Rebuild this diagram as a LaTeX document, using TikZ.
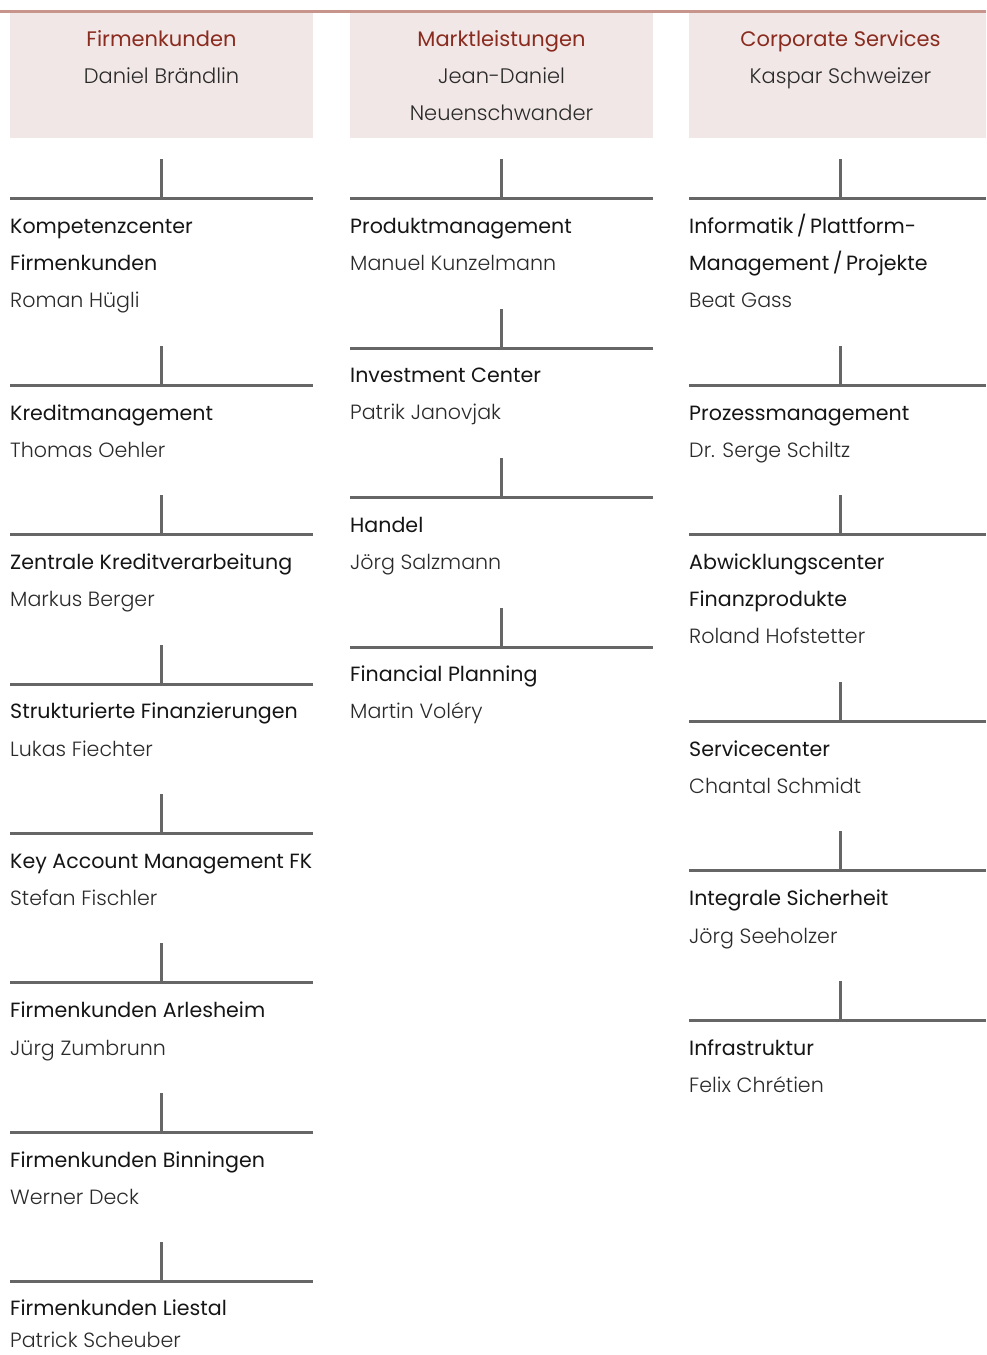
\documentclass[tikz,border=0pt]{standalone}
\usepackage{fontspec}
\newfontfamily\titlefont{Poppins}
\newfontfamily\namefont{Poppins Light}
\definecolor{hdrfill}{HTML}{F1E7E6}
\definecolor{hdrred}{HTML}{8A2B1F}
\definecolor{topline}{HTML}{C8958C}
\definecolor{connc}{HTML}{666666}
\definecolor{titlec}{HTML}{151515}
\definecolor{namec}{HTML}{2A2A2A}
\tikzset{
  hdrbox/.style={fill=hdrfill,draw=none,inner sep=0pt},
  conn/.style={draw=connc,line width=3pt},
  topl/.style={draw=topline,line width=3pt},
  ttl/.style={anchor=base west,inner sep=0pt,text=titlec,font=\titlefont\fontsize{20.6}{25}\selectfont},
  nm/.style={anchor=base west,inner sep=0pt,text=namec,font=\namefont\fontsize{20.6}{25}\selectfont},
  hred/.style={anchor=base,inner sep=0pt,text=hdrred,font=\titlefont\fontsize{21}{25}\selectfont},
  hnm/.style={anchor=base,inner sep=0pt,text=namec,font=\namefont\fontsize{21}{25}\selectfont},
}
\newcommand\orgconn[5]{%
  \coordinate (#1-l) at (#2,#5);
  \coordinate (#1-r) at (#4,#5);
  \coordinate (#1-t) at (#3,#5-39);
  \coordinate (#1-b) at (#3,#5);
  \draw[conn] (#1-l) -- (#1-r);
  \draw[conn] (#1-t) -- (#1-b);
}
\begin{document}
\begin{tikzpicture}[x=1pt,y=-1pt]
\useasboundingbox (0,0) rectangle (986,1355);
% header boxes
\node[hdrbox,minimum width=303pt,minimum height=126pt,anchor=north west] (h1) at (10,12) {};
\node[hdrbox,minimum width=303pt,minimum height=126pt,anchor=north west] (h2) at (350,12) {};
\node[hdrbox,minimum width=297pt,minimum height=126pt,anchor=north west] (h3) at (689,12) {};
\coordinate (tl-l) at (0,11);
\coordinate (tl-r) at (986,11);
\draw[topl] (tl-l) -- (tl-r);
\node[hred] (h1a) at (161.5,46) {Firmenkunden};
\node[hnm]  (h1b) at (161.5,83) {Daniel Brändlin};
\node[hred] (h2a) at (501.5,46) {Marktleistungen};
\node[hnm]  (h2b) at (501.5,83) {Jean-Daniel};
\node[hnm]  (h2c) at (501.5,120) {Neuenschwander};
\node[hred] (h3a) at (840.5,46) {Corporate Services};
\node[hnm]  (h3b) at (840.5,83) {Kaspar Schweizer};
% column 1
\orgconn{a1}{10}{161.5}{313}{198}
\node[ttl] (a1t1) at (10,233) {Kompetenzcenter};
\node[ttl] (a1t2) at (10,270) {Firmenkunden};
\node[nm]  (a1n)  at (10,307) {Roman Hügli};
\orgconn{a2}{10}{161.5}{313}{385}
\node[ttl] (a2t1) at (10,420) {Kreditmanagement};
\node[nm]  (a2n)  at (10,457) {Thomas Oehler};
\orgconn{a3}{10}{161.5}{313}{534}
\node[ttl] (a3t1) at (10,569) {Zentrale Kreditverarbeitung};
\node[nm]  (a3n)  at (10,606) {Markus Berger};
\orgconn{a4}{10}{161.5}{313}{684}
\node[ttl] (a4t1) at (10,718) {Strukturierte Finanzierungen};
\node[nm]  (a4n)  at (10,756) {Lukas Fiechter};
\orgconn{a5}{10}{161.5}{313}{833}
\node[ttl] (a5t1) at (10,868) {Key Account Management FK};
\node[nm]  (a5n)  at (10,905) {Stefan Fischler};
\orgconn{a6}{10}{161.5}{313}{982}
\node[ttl] (a6t1) at (10,1017) {Firmenkunden Arlesheim};
\node[nm]  (a6n)  at (10,1055) {Jürg Zumbrunn};
\orgconn{a7}{10}{161.5}{313}{1132}
\node[ttl] (a7t1) at (10,1167) {Firmenkunden Binningen};
\node[nm]  (a7n)  at (10,1204) {Werner Deck};
\orgconn{a8}{10}{161.5}{313}{1281}
\node[ttl] (a8t1) at (10,1315) {Firmenkunden Liestal};
\node[nm]  (a8n)  at (10,1347) {Patrick Scheuber};
% column 2
\orgconn{b1}{350}{501.5}{653}{198}
\node[ttl] (b1t1) at (350,233) {Produktmanagement};
\node[nm]  (b1n)  at (350,270) {Manuel Kunzelmann};
\orgconn{b2}{350}{501.5}{653}{348}
\node[ttl] (b2t1) at (350,382) {Investment Center};
\node[nm]  (b2n)  at (350,419) {Patrik Janovjak};
\orgconn{b3}{350}{501.5}{653}{497}
\node[ttl] (b3t1) at (350,532) {Handel};
\node[nm]  (b3n)  at (350,569) {Jörg Salzmann};
\orgconn{b4}{350}{501.5}{653}{647}
\node[ttl] (b4t1) at (350,681) {Financial Planning};
\node[nm]  (b4n)  at (350,718) {Martin Voléry};
% column 3
\orgconn{c1}{689}{840.5}{986}{198}
\node[ttl] (c1t1) at (689,233) {Informatik\,/\,Plattform-};
\node[ttl] (c1t2) at (689,270) {Management\,/\,Projekte};
\node[nm]  (c1n)  at (689,307) {Beat Gass};
\orgconn{c2}{689}{840.5}{986}{385}
\node[ttl] (c2t1) at (689,420) {Prozessmanagement};
\node[nm]  (c2n)  at (689,457) {Dr. Serge Schiltz};
\orgconn{c3}{689}{840.5}{986}{534}
\node[ttl] (c3t1) at (689,569) {Abwicklungscenter};
\node[ttl] (c3t2) at (689,606) {Finanzprodukte};
\node[nm]  (c3n)  at (689,643) {Roland Hofstetter};
\orgconn{c4}{689}{840.5}{986}{721}
\node[ttl] (c4t1) at (689,756) {Servicecenter};
\node[nm]  (c4n)  at (689,793) {Chantal Schmidt};
\orgconn{c5}{689}{840.5}{986}{870}
\node[ttl] (c5t1) at (689,905) {Integrale Sicherheit};
\node[nm]  (c5n)  at (689,943) {Jörg Seeholzer};
\orgconn{c6}{689}{840.5}{986}{1020}
\node[ttl] (c6t1) at (689,1055) {Infrastruktur};
\node[nm]  (c6n)  at (689,1092) {Felix Chrétien};
\end{tikzpicture}
\end{document}
